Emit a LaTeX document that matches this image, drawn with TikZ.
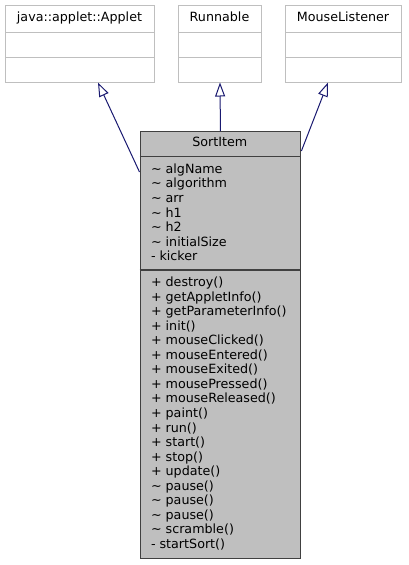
\documentclass[tikz,border=0pt]{standalone}
\usepackage{fontspec}
\setmainfont{DejaVu Sans}
\usetikzlibrary{arrows.meta,calc}
\definecolor{boxgray}{RGB}{191,191,191}
\definecolor{sortfill}{RGB}{191,191,191}
\definecolor{sortdraw}{RGB}{64,64,64}
\definecolor{edgeblue}{RGB}{25,25,112}
\begin{document}
\begin{tikzpicture}[x=1pt,y=-1pt,font=\fontsize{12.7}{14.6}\selectfont]
\useasboundingbox (0,0) rectangle (408,565);
\tikzset{
  iface/.style={draw=boxgray,fill=white,line width=1pt,inner sep=0pt,anchor=north west},
  ifaceline/.style={draw=boxgray,line width=1pt},
  mainbox/.style={draw=sortdraw,fill=sortfill,line width=1.4pt,inner sep=0pt,anchor=north west},
  mainline/.style={draw=sortdraw,line width=1.4pt},
  title/.style={anchor=base,inner sep=0pt},
  member/.style={anchor=base west,inner sep=0pt},
  inh/.style={draw=edgeblue,line width=1pt,-{Triangle[fill=white,length=14pt,width=10pt]}}
}
% interface boxes
\node[iface,minimum width=149pt,minimum height=76.5pt] (applet) at (5,5) {};
\draw[ifaceline] (5,32) -- (154,32) (5,57) -- (154,57);
\node[title] (tapplet) at (79.5,21.7) {java::applet::Applet};
\node[iface,minimum width=83pt,minimum height=76.5pt] (runnable) at (178,5) {};
\draw[ifaceline] (178,32) -- (261,32) (178,57) -- (261,57);
\node[title] (trunnable) at (219.5,21.7) {Runnable};
\node[iface,minimum width=116pt,minimum height=76.5pt] (mouse) at (285,5) {};
\draw[ifaceline] (285,32) -- (401,32) (285,57) -- (401,57);
\node[title] (tmouse) at (343,21.7) {MouseListener};
% main class
\node[mainbox,minimum width=160.5pt,minimum height=427pt] (sort) at (139.5,131) {};
\draw[mainline] (139.5,156.5) -- (300,156.5) (139.5,270) -- (300,270);
\node[title] (tsort) at (219.75,146.7) {SortItem};
\foreach \t [count=\i] in {{\textasciitilde\ algName},{\textasciitilde\ algorithm},{\textasciitilde\ arr},{\textasciitilde\ h1},{\textasciitilde\ h2},{\textasciitilde\ initialSize},{- kicker}}
  \node[member] (a\i) at (150.8,{173.3+14.6*(\i-1)}) {\t};
\foreach \t [count=\i] in {{+ destroy()},{+ getAppletInfo()},{+ getParameterInfo()},{+ init()},{+ mouseClicked()},{+ mouseEntered()},{+ mouseExited()},{+ mousePressed()},{+ mouseReleased()},{+ paint()},{+ run()},{+ start()},{+ stop()},{+ update()},{\textasciitilde\ pause()},{\textasciitilde\ pause()},{\textasciitilde\ pause()},{\textasciitilde\ scramble()},{- startSort()}}
  \node[member] (m\i) at (150.8,{286.7+14.53*(\i-1)}) {\t};
% inheritance
\draw[inh] ($(sort.north west)+(0,41)$) -- ($(applet.south west)+(93,0)$);
\draw[inh] (sort.north) -- (runnable.south);
\draw[inh] ($(sort.north east)+(0,20)$) -- ($(mouse.south west)+(43,0)$);
\end{tikzpicture}
\end{document}
